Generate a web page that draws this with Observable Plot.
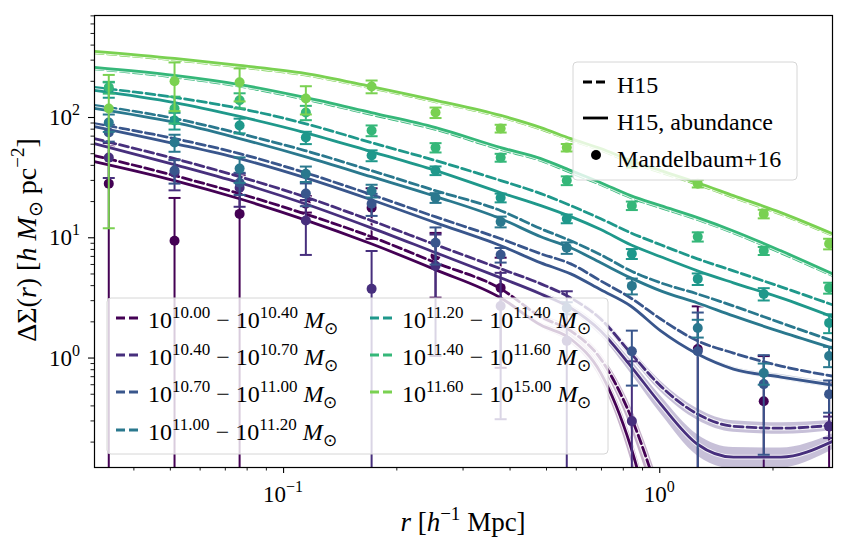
<!DOCTYPE html>
<html><head><meta charset="utf-8">
<script src="https://cdn.jsdelivr.net/npm/d3@7"></script>
<script src="https://cdn.jsdelivr.net/npm/@observablehq/plot@0.6"></script>
<style>body{margin:0;background:#fff} svg{display:block}</style>
</head><body><div id="chart"></div>
<script>
// axis limits and ticks
const xDomain = [0.03143, 2.879];
const yDomain = [0.123, 705];
const xMajor = [0.1, 1];
const xMajorExp = ["−1", "0"];
const xMinor = [0.04,0.05,0.06,0.07,0.08,0.09,0.2,0.3,0.4,0.5,0.6,0.7,0.8,0.9,2];
const yMajor = [1, 10, 100];
const yMajorExp = ["0", "1", "2"];
const yMinor = [0.2,0.3,0.4,0.5,0.6,0.7,0.8,0.9,2,3,4,5,6,7,8,9,20,30,40,50,60,70,80,90,200,300,400,500,600,700];

// stellar mass bin edges (log10)
const massEdges = ["10.00","10.40","10.70","11.00","11.20","11.40","11.60","15.00"];

// model radii
const rModel = [0.0314, 0.0513, 0.0764, 0.114, 0.171, 0.254, 0.378, 0.483, 0.58, 0.697, 0.837, 1.006, 1.26, 1.57, 2.1, 2.88];

// H15 (dashed)
const h15_0 = [48.3, 32.9, 23.3, 15.8, 10.2, 6.19, 3.76, 2.20, 1.68, 0.98, 0.329, 0.064, null, null, null, null];
const h15_1 = [66.8, 45.5, 32.2, 21.9, 13.9, 8.74, 5.52, 4.14, 3.16, 2.11, 1.10, 0.584, 0.342, 0.271, 0.261, 0.276];
const h15_2 = [89.1, 66.8, 50.1, 34.8, 22.9, 14.9, 9.81, 7.36, 6.07, 4.38, 3.16, 2.11, 1.39, 1.10, 0.858, 0.708];
const h15_3 = [126, 98.1, 73.6, 53.1, 36.2, 24.6, 16.8, 11.9, 9.44, 7.22, 5.31, 4.22, 3.41, 2.71, 1.96, 1.39];
const h15_4 = [178, 147, 119, 89.1, 61.9, 43.8, 29.9, 23.3, 18.5, 14.4, 11.0, 8.74, 6.68, 5.31, 3.91, 2.77];
const h15_5 = [254, 217, 182, 142, 106, 79.5, 54.2, 43.9, 34.9, 27.7, 21.6, 17.8, 14.2, 11.0, 7.5, 4.85];
const h15_6 = [345, 301, 263, 226, 176, 135, 101, 80, 65, 53.5, 42.5, 35.1, 27.8, 21.7, 15.7, 10.5];

// H15, abundance (solid)
const abd_0 = [43.0, 29.9, 21.1, 14.1, 8.91, 5.41, 3.16, 1.88, 1.44, 0.75, 0.184, 0.02, null, null, null, null];
const abd_1 = [60.7, 40.6, 28.7, 19.2, 12.1, 7.50, 4.64, 3.41, 2.61, 1.68, 0.858, 0.414, 0.192, 0.150, 0.150, 0.203];
const abd_2 = [84.1, 60.7, 45.5, 31.6, 20.7, 13.3, 8.58, 6.19, 5.01, 3.69, 2.71, 1.68, 1.08, 0.810, 0.695, 0.596];
const abd_3 = [119, 90.9, 66.8, 47.3, 32.2, 22.0, 14.4, 10.2, 8.25, 6.19, 4.64, 3.62, 2.87, 2.24, 1.65, 1.21];
const abd_4 = [168, 133, 102, 75.0, 52.1, 36.2, 23.7, 18.5, 15.0, 11.7, 8.74, 6.95, 5.31, 4.22, 3.16, 2.20];
const abd_5 = [261, 224, 188, 147, 110, 82.5, 56.2, 45.5, 36.2, 28.7, 22.4, 18.5, 14.7, 11.4, 7.79, 5.01];
const abd_6 = [355, 310, 271, 233, 181, 139, 104, 82.5, 66.8, 55.2, 43.8, 36.2, 28.7, 22.4, 16.2, 10.8];

// relative half-width of the model uncertainty bands
const bandH15_0 = [0,0,0,0,0,0,0.03,0.05,0.07,0.1,0.2,0.3,null,null,null,null];
const bandAbd_0 = [0,0,0,0,0,0,0.03,0.05,0.08,0.12,0.22,0.3,null,null,null,null];
const bandH15_1 = [0,0,0,0,0,0,0.02,0.03,0.04,0.06,0.08,0.1,0.11,0.11,0.11,0.1];
const bandAbd_1 = [0,0,0,0,0,0,0.02,0.04,0.06,0.09,0.13,0.17,0.2,0.2,0.19,0.15];
const bandAbd_2 = [0,0,0,0,0,0,0,0,0,0,0,0.02,0.03,0.04,0.05,0.05];

// Mandelbaum+16 measurements
const rObs = [0.0343, 0.0513, 0.0764, 0.1146, 0.1714, 0.2535, 0.3776, 0.566, 0.843, 1.262, 1.89, 2.82];
const obs_0 = [28.2, 9.44, 15.8, 19.2, 17.8, 7.08, 3.83, null, null, 1.19, 0.438, 0.27];
const err_0 = [30, 12, 17, 3, 8, 3.9, 3.0, null, null, 1.5, 0.6, 0.35];
const obs_1 = [46.4, 34.8, 26.1, 13.9, 3.76, 5.84, 2.71, 1.39, 0.299, null, null, 0.271];
const err_1 = [15, 10, 8, 6.7, 4.0, 4.8, 2.4, 2.2, 0.64, null, null, 0.055];
const obs_2 = [75.0, 36.2, 28.7, 23.3, 19.2, 9.09, 7.22, 2.61, 1.14, 1.14, 0.607, 0.501];
const err_2 = [12, 8, 6, 5, 4, 3.1, 1.0, 0.3, 0.55, 1.25, 0.45, 0.15];
const obs_3 = [90.9, 61.9, 37.6, 34.1, 24.6, 21.5, 13.6, 8.25, 3.98, 1.78, 0.75, 1.04];
const err_3 = [15, 10, 9, 5, 3, 2, 1.4, 0.9, 0.6, 0.3, 0.15, 0.2];
const obs_4 = [171, 94.4, 85.8, 68.1, 48.3, 36.2, 21.5, 14.4, 7.36, 4.55, 3.41, 1.96];
const err_4 = [25, 15, 12, 8, 5, 3, 1.8, 1.2, 0.7, 0.5, 0.4, 0.35];
const obs_5 = [178, 119, 139, 110, 77.9, 56.2, 46.4, 29.9, 18.5, 10.2, 7.79, 3.83];
const err_5 = [20, 30, 20, 15, 8, 5, 3.5, 2.5, 1.5, 0.9, 0.6, 0.4];
const obs_6 = [119, 200, 196, 144, 181, 110, 81, 56.2, 41.4, 28.2, 15.8, 8.91];
const err_6 = [107, 87, 60, 38, 22, 11, 6, 4, 3, 2, 1.3, 0.9];

const H15 = [h15_0,h15_1,h15_2,h15_3,h15_4,h15_5,h15_6];
const ABD = [abd_0,abd_1,abd_2,abd_3,abd_4,abd_5,abd_6];
const BANDH = [bandH15_0, bandH15_1, null, null, null, null, null];
const BANDA = [bandAbd_0, bandAbd_1, bandAbd_2, null, null, null, null];
const OBS = [obs_0,obs_1,obs_2,obs_3,obs_4,obs_5,obs_6];
const ERR = [err_0,err_1,err_2,err_3,err_4,err_5,err_6];
const colors = d3.range(7).map(i => d3.interpolateViridis(i * 0.8 / 6));

const DASH = "9,4";
const LW = 2.8;
const capSym = {draw(ctx, size){ const w = Math.sqrt(size / Math.PI); ctx.moveTo(-w, 0); ctx.lineTo(w, 0); }};

const marks = [];
for (let i = 0; i < 7; i++) {
  const c = colors[i];
  const mk = (vals, band) => rModel.map((r, j) => ({r, v: vals[j], w: band ? band[j] : null})).filter(d => d.v != null);
  const dd = mk(H15[i], BANDH[i]);
  const sd = mk(ABD[i], BANDA[i]);
  if (BANDH[i]) marks.push(Plot.areaY(dd.filter(d => d.w != null), {x: "r", y1: d => d.v * (1 - d.w), y2: d => d.v * (1 + d.w), fill: c, fillOpacity: 0.3, curve: "monotone-x", clip: true}));
  if (BANDA[i]) marks.push(Plot.areaY(sd.filter(d => d.w != null), {x: "r", y1: d => d.v * (1 - d.w), y2: d => d.v * (1 + d.w), fill: c, fillOpacity: 0.3, curve: "monotone-x", clip: true}));
  marks.push(Plot.line(dd, {x: "r", y: "v", stroke: "white", strokeWidth: LW + 2, strokeOpacity: 0.8, curve: "monotone-x", clip: true}));
  marks.push(Plot.line(dd, {x: "r", y: "v", stroke: c, strokeWidth: LW, strokeDasharray: DASH, curve: "monotone-x", clip: true}));
  marks.push(Plot.line(sd, {x: "r", y: "v", stroke: "white", strokeWidth: LW + 2, strokeOpacity: 0.8, curve: "monotone-x", clip: true}));
  marks.push(Plot.line(sd, {x: "r", y: "v", stroke: c, strokeWidth: LW, curve: "monotone-x", clip: true}));
  const ob = rObs.map((r, j) => ({r, v: OBS[i][j], e: ERR[i][j]})).filter(d => d.v != null);
  marks.push(Plot.ruleX(ob, {x: "r", y1: d => (d.v - d.e > 0 ? d.v - d.e : 1e-3), y2: d => d.v + d.e, stroke: c, strokeWidth: 2, clip: true}));
  marks.push(Plot.dot(ob, {x: "r", y: d => d.v + d.e, symbol: capSym, r: 6, stroke: c, fill: "none", strokeWidth: 2, clip: true}));
  marks.push(Plot.dot(ob.filter(d => d.v - d.e > 0), {x: "r", y: d => d.v - d.e, symbol: capSym, r: 6, stroke: c, fill: "none", strokeWidth: 2, clip: true}));
  marks.push(Plot.dot(ob, {x: "r", y: "v", r: 5, fill: c, stroke: "none", clip: true}));
}
marks.push(Plot.axisX({ticks: xMajor, tickSize: 6, tickFormat: () => "", label: null, strokeWidth: 1.1}));
marks.push(Plot.axisX({ticks: xMinor, tickSize: 3.5, tickFormat: () => "", label: null, strokeWidth: 0.9}));
marks.push(Plot.axisY({ticks: yMajor, tickSize: 6, tickFormat: () => "", label: null, strokeWidth: 1.1}));
marks.push(Plot.axisY({ticks: yMinor, tickSize: 3.5, tickFormat: () => "", label: null, strokeWidth: 0.9}));
marks.push(Plot.frame({stroke: "black", strokeWidth: 1.2}));

const chart = Plot.plot({
  width: 847, height: 550,
  marginLeft: 94, marginRight: 15, marginTop: 15, marginBottom: 83,
  x: {type: "log", domain: xDomain},
  y: {type: "log", domain: yDomain},
  style: {fontFamily: "Liberation Serif", background: "white", overflow: "visible", color: "black"},
  marks
});
document.getElementById("chart").appendChild(chart);

const svg = d3.select(chart);
const sx = chart.scale("x"), sy = chart.scale("y");
const FONT = "Liberation Serif";
const txt = (sel, x, y, size, anchor) => sel.append("text").attr("x", x).attr("y", y)
  .attr("text-anchor", anchor).attr("font-family", FONT).attr("font-size", size).attr("fill", "black");

// tick labels
xMajor.forEach((v, k) => {
  const t = txt(svg, sx.apply(v), 502, 23, "middle");
  t.append("tspan").text("10");
  t.append("tspan").attr("font-size", 16).attr("dy", -10).text(xMajorExp[k]);
});
yMajor.forEach((v, k) => {
  const t = txt(svg, 80, sy.apply(v) + 8, 23, "end");
  t.append("tspan").text("10");
  t.append("tspan").attr("font-size", 16).attr("dy", -10).text(yMajorExp[k]);
});

// axis titles
{
  const t = txt(svg, 463, 531, 27, "middle");
  t.append("tspan").attr("font-style", "italic").text("r");
  t.append("tspan").text(" [");
  t.append("tspan").attr("font-style", "italic").text("h");
  t.append("tspan").attr("font-size", 19).attr("dy", -11).text("−1");
  t.append("tspan").attr("dy", 11).text(" Mpc]");
}
{
  const t = txt(svg, 0, 0, 28, "middle").attr("transform", "translate(36,240) rotate(-90)");
  t.append("tspan").text("ΔΣ(");
  t.append("tspan").attr("font-style", "italic").text("r");
  t.append("tspan").text(") [");
  t.append("tspan").attr("font-style", "italic").text("h M");
  t.append("tspan").attr("font-size", 19).attr("dy", 6).text("⊙");
  t.append("tspan").attr("dy", -6).text(" pc");
  t.append("tspan").attr("font-size", 19).attr("dy", -12).text("−2");
  t.append("tspan").attr("dy", 12).text("]");
}

// legend 1 (line styles)
{
  const g = svg.append("g");
  g.append("rect").attr("x", 573).attr("y", 62).attr("width", 224).attr("height", 118).attr("rx", 4)
    .attr("fill", "white").attr("fill-opacity", 0.8).attr("stroke", "#d6d6d6");
  g.append("line").attr("x1", 583).attr("x2", 608).attr("y1", 82).attr("y2", 82).attr("stroke", "black").attr("stroke-width", LW).attr("stroke-dasharray", DASH);
  g.append("line").attr("x1", 583).attr("x2", 608).attr("y1", 118).attr("y2", 118).attr("stroke", "black").attr("stroke-width", LW);
  g.append("circle").attr("cx", 596).attr("cy", 155).attr("r", 5).attr("fill", "black");
  const labs = ["H15", "H15, abundance", "Mandelbaum+16"];
  [93, 130, 167].forEach((y, k) => txt(g, 617, y, 24, "start").text(labs[k]));
}

// legend 2 (mass bins)
{
  const g = svg.append("g");
  g.append("rect").attr("x", 107).attr("y", 298).attr("width", 501).attr("height", 156).attr("rx", 4)
    .attr("fill", "white").attr("fill-opacity", 0.8).attr("stroke", "#d6d6d6");
  const rowsY = [318, 355, 392, 430];
  for (let i = 0; i < 7; i++) {
    const col = i < 4 ? 0 : 1, row = i < 4 ? i : i - 4;
    const hx = col === 0 ? 116 : 370, tx = col === 0 ? 148 : 402, y = rowsY[row];
    g.append("line").attr("x1", hx).attr("x2", hx + 25).attr("y1", y).attr("y2", y).attr("stroke", colors[i])
      .attr("stroke-width", LW).attr("stroke-dasharray", DASH);
    const t = txt(g, tx, y + 10, 24, "start");
    t.append("tspan").text("10");
    t.append("tspan").attr("font-size", 17).attr("dy", -10).text(massEdges[i]);
    t.append("tspan").attr("dy", 10).text(" − 10");
    t.append("tspan").attr("font-size", 17).attr("dy", -10).text(massEdges[i + 1]);
    t.append("tspan").attr("dy", 10).text(" ");
    t.append("tspan").attr("font-style", "italic").text("M");
    t.append("tspan").attr("font-size", 17).attr("dy", 6).text("⊙");
  }
}
</script>
</body></html>
